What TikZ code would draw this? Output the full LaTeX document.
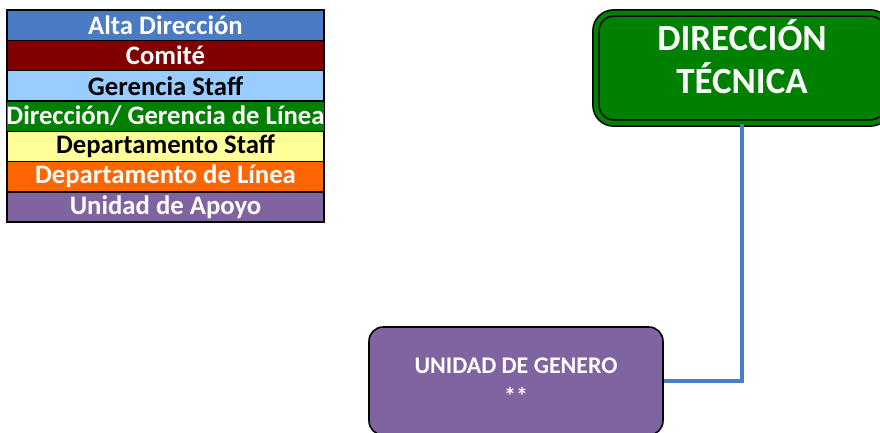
\documentclass[tikz,border=0pt]{standalone}
\usepackage{fontspec}
\setmainfont{Carlito}
\usepackage{tikz}
\usetikzlibrary{positioning}

\definecolor{altaBlue}{RGB}{74,123,196}
\definecolor{comiteRed}{RGB}{128,0,0}
\definecolor{staffBlue}{RGB}{153,204,255}
\definecolor{lineaGreen}{RGB}{0,128,0}
\definecolor{staffYellow}{RGB}{255,255,153}
\definecolor{lineaOrange}{RGB}{255,102,0}
\definecolor{apoyoPurple}{RGB}{128,100,162}
\definecolor{connBlue}{RGB}{74,126,196}

\begin{document}
\begin{tikzpicture}[x=0.02cm, y=-0.02cm,
    legrow/.style={draw=black, line width=0.8pt, outer sep=0pt, minimum width=6.34cm, minimum height=0.606cm,
        inner sep=0pt, font=\fontsize{15.2}{16}\selectfont\bfseries},
    dirbox/.style={draw=black, line width=0.9pt, double=lineaGreen, double distance=2.6pt,
        fill=lineaGreen, rounded corners=10pt, minimum width=5.84cm, minimum height=2.2cm,
        text=white, align=center, font=\fontsize{21}{24.5}\selectfont\bfseries},
    unibox/.style={draw=black, line width=0.9pt, fill=apoyoPurple, rounded corners=8pt,
        minimum width=5.88cm, minimum height=2.16cm, text=white, align=center,
        font=\fontsize{13.6}{17.5}\selectfont\bfseries},
    conn/.style={draw=connBlue, line width=2.4pt}]
            \clip (0,0) rectangle (880,433);

            % Leyenda
            \node[legrow, fill=altaBlue, text=white] (legAlta) at (165.5, 25.2) {Alta Dirección};
            \node[legrow, fill=comiteRed, text=white, below=0pt of legAlta] (legComite) {Comité};
            \node[legrow, fill=staffBlue, text=black, below=0pt of legComite] (legGerStaff) {Gerencia Staff};
            \node[legrow, fill=lineaGreen, text=white, below=0pt of legGerStaff] (legDirLinea) {Dirección/ Gerencia de Línea};
            \node[legrow, fill=staffYellow, text=black, below=0pt of legDirLinea] (legDepStaff) {Departamento Staff};
            \node[legrow, fill=lineaOrange, text=white, below=0pt of legDepStaff] (legDepLinea) {Departamento de Línea};
            \node[legrow, fill=apoyoPurple, text=white, below=0pt of legDepLinea] (legApoyo) {Unidad de Apoyo};

            % Organigrama
            \node[dirbox, text depth=13pt] (dirTec) at (742, 68) {DIRECCIÓN\\TÉCNICA};
            \node[unibox] (uniGen) at (516, 381) {UNIDAD DE GENERO\\**};
            \draw[conn] (dirTec.south) |- (uniGen.east);
        \end{tikzpicture}
\end{document}
